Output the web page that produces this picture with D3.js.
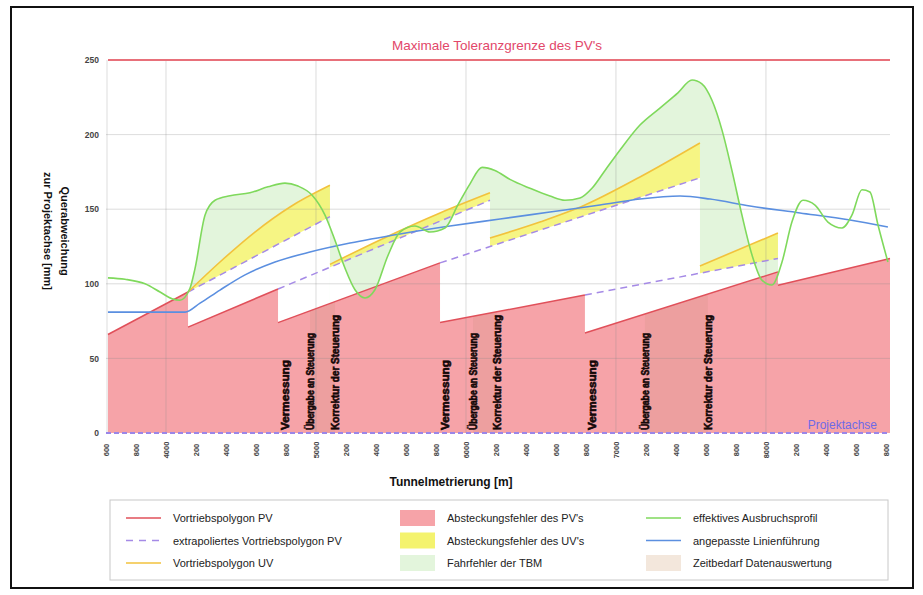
<!DOCTYPE html>
<html>
<head>
<meta charset="utf-8">
<script src="https://cdn.jsdelivr.net/npm/d3@7"></script>
<style>
  body { margin: 0; background: #fff; font-family: "Liberation Sans", Arial, sans-serif; }
</style>
</head>
<body>
<div id="chart"></div>
<script>
// ---- data (Tunnelmetrierung [m], Querabweichung [mm]) ----
var yTicks = [0, 50, 100, 150, 200, 250];
var xTicks = [3600, 3800, 4000, 4200, 4400, 4600, 4800, 5000, 5200, 5400, 5600, 5800, 6000,
  6200, 6400, 6600, 6800, 7000, 7200, 7400, 7600, 7800, 8000, 8200, 8400, 8600, 8800];
var xMajor = [4000, 5000, 6000, 7000, 8000];

// Vortriebspolygon PV (sawtooth segments)
var pvStart = [3613, 4147, 4747, 5827, 6793, 8080];
var pvEnd = [4147, 4747, 5827, 6793, 8080, 8827];
var pvStartVal = [66, 71, 74, 74, 67, 99];
var pvEndVal = [94.5, 96.5, 114, 92.5, 108, 117];

// extrapoliertes Vortriebspolygon PV
var exFrom = [4147, 4747, 5827, 6793];
var exFromVal = [94.5, 96.5, 114, 92.5];
var exTo = [5093, 6160, 7560, 8080];
var exToVal = [145, 156, 171, 117];

// Vortriebspolygon UV (one list per section)
var uv1 = [[4147, 94.5], [4360, 114.6], [4593, 134.7], [4827, 151.5], [5093, 166]];
var uv2 = [[5093, 113], [5427, 129.4], [5827, 147.5], [6160, 161]];
var uv3 = [[6160, 130.7], [6493, 141.4], [6793, 152.8], [7160, 171.6], [7560, 194.4]];
var uv4 = [[7560, 112], [8080, 134]];

// effektives Ausbruchsprofil
var green = [[3613, 104], [3727, 103], [3860, 100], [3960, 94.5], [4040, 90], [4093, 89],
  [4160, 97], [4193, 110], [4260, 146], [4327, 156], [4427, 159], [4560, 161], [4680, 165],
  [4793, 167.5], [4880, 165.5], [4973, 159.5], [5060, 146], [5127, 129], [5193, 110.6],
  [5260, 96], [5327, 90.5], [5393, 96], [5480, 119], [5560, 134.7], [5660, 138.7],
  [5760, 134.7], [5860, 137.4], [5947, 153], [6027, 167], [6107, 178], [6193, 176],
  [6293, 170], [6427, 164], [6560, 158.8], [6660, 156], [6760, 157.5], [6840, 164],
  [6927, 176], [7027, 189.7], [7160, 206.4], [7293, 217.8], [7413, 228], [7507, 236.6],
  [7573, 234], [7640, 223], [7707, 203], [7773, 176], [7840, 146], [7907, 119.3],
  [7973, 102.5], [8040, 99.2], [8107, 114.6], [8173, 141.4], [8247, 156], [8327, 152.8],
  [8413, 141.4], [8507, 137.4], [8573, 146], [8640, 163], [8693, 161.5], [8747, 139.4],
  [8813, 114.6]];

// angepasste Linienführung
var blue = [[3613, 81], [4127, 81], [4227, 87], [4360, 95.8], [4527, 106], [4727, 114.6],
  [4960, 121.3], [5227, 127.3], [5560, 133.4], [5893, 138.7], [6227, 143.4], [6560, 148.1],
  [6893, 152.8], [7160, 156.8], [7427, 158.8], [7627, 156.8], [7893, 152.1], [8227, 147.5],
  [8560, 142.8], [8813, 138.1]];

// Zeitbedarf Datenauswertung
var tanFrom = [4960, 6047, 7193];
var tanTo = [5127, 6207, 7613];

// event markers
var markPos = [4793, 4960, 5127, 5860, 6047, 6207, 6840, 7193, 7613];
var markText = ["Vermessung", "Übergabe an Steuerung", "Korrektur der Steuerung"];

var tolerance = 250;
var legendItems = [
  ["line", "#e0505a", "Vortriebspolygon PV"],
  ["dash", "#a58ae6", "extrapoliertes Vortriebspolygon PV"],
  ["line", "#f2c23c", "Vortriebspolygon UV"],
  ["rect", "#f6a3a8", "Absteckungsfehler des PV's"],
  ["rect", "#f4f36e", "Absteckungsfehler des UV's"],
  ["rect", "#e3f5dc", "Fahrfehler der TBM"],
  ["line", "#7fd95c", "effektives Ausbruchsprofil"],
  ["line", "#5b8fe0", "angepasste Linienführung"],
  ["rect", "#f3e7dc", "Zeitbedarf Datenauswertung"]
];

// ---- drawing ----
var W = 923, H = 595;
var svg = d3.select("#chart").append("svg").attr("width", W).attr("height", H);

var x = d3.scaleLinear().domain([3600, 8827]).range([106, 890]);
var y = d3.scaleLinear().domain([0, 250]).range([433, 60]);

// outer frame
svg.append("rect").attr("x", 11).attr("y", 7).attr("width", 902).attr("height", 581)
  .attr("fill", "none").attr("stroke", "#111").attr("stroke-width", 2);

var line = d3.line().x(function(d) { return x(d[0]); }).y(function(d) { return y(d[1]); });
var smooth = d3.line().curve(d3.curveMonotoneX)
  .x(function(d) { return x(d[0]); }).y(function(d) { return y(d[1]); });
var under = d3.area().curve(d3.curveMonotoneX)
  .x(function(d) { return x(d[0]); }).y0(y(0)).y1(function(d) { return y(d[1]); });

var defs = svg.append("defs");
var uvs = [uv1, uv2, uv3, uv4];

// Fahrfehler der TBM: area between green and UV line, per section
uvs.forEach(function(u, i) {
  var a = u[0][0], b = u[u.length - 1][0];
  defs.append("clipPath").attr("id", "cg" + i).append("rect")
    .attr("x", x(a)).attr("y", 0).attr("width", x(b) - x(a)).attr("height", H);
  svg.append("path")
    .attr("d", under(green) + under(u))
    .attr("fill", "#e3f5dc").attr("fill-rule", "evenodd")
    .attr("clip-path", "url(#cg" + i + ")");
});

// Absteckungsfehler des UV's: between UV line and extrapolation
uvs.forEach(function(u, i) {
  var a = u[0][0], b = u[u.length - 1][0];
  defs.append("clipPath").attr("id", "cy" + i).append("rect")
    .attr("x", x(a)).attr("y", 0).attr("width", x(b) - x(a)).attr("height", H);
  var pts = u.concat([[exTo[i], exToVal[i]], [exFrom[i], exFromVal[i]]]);
  svg.append("path").attr("d", line(pts) + "Z")
    .attr("fill", "#f4f36e").attr("fill-opacity", 0.85)
    .attr("clip-path", "url(#cy" + i + ")");
});

// Absteckungsfehler des PV's
var pvSeg = pvStart.map(function(s, i) { return [[s, pvStartVal[i]], [pvEnd[i], pvEndVal[i]]]; });
var pvArea = d3.area().x(function(d) { return x(d[0]); }).y0(y(0)).y1(function(d) { return y(d[1]); });
var pvPath = pvSeg.map(function(s) { return pvArea(s); }).join("");
svg.append("path").attr("d", pvPath).attr("fill", "#f6a3a8");

// Zeitbedarf Datenauswertung (shown over the PV area)
defs.append("clipPath").attr("id", "cpv").append("path").attr("d", pvPath);
tanFrom.forEach(function(t, i) {
  svg.append("rect").attr("x", x(t)).attr("y", y(250)).attr("width", x(tanTo[i]) - x(t))
    .attr("height", y(0) - y(250)).attr("fill", "#b88a6a").attr("fill-opacity", 0.14)
    .attr("clip-path", "url(#cpv)");
});

// grid
var grid = svg.append("g").attr("stroke", "#8a8a8a").attr("stroke-opacity", 0.3).attr("stroke-width", 1);
grid.selectAll(".h").data(yTicks.filter(function(v) { return v > 0 && v < 250; })).enter()
  .append("line").attr("x1", x.range()[0]).attr("x2", x.range()[1])
  .attr("y1", function(d) { return y(d); }).attr("y2", function(d) { return y(d); });
grid.selectAll(".v").data(xMajor).enter().append("line")
  .attr("x1", function(d) { return x(d); }).attr("x2", function(d) { return x(d); })
  .attr("y1", y(250)).attr("y2", y(0));
grid.append("line").attr("x1", 107).attr("x2", 107).attr("y1", y(250)).attr("y2", y(0));

// extrapolated PV (dashed)
exFrom.forEach(function(f, i) {
  svg.append("path").attr("d", line([[f, exFromVal[i]], [exTo[i], exToVal[i]]]))
    .attr("fill", "none").attr("stroke", "#a58ae6").attr("stroke-width", 1.5)
    .attr("stroke-dasharray", "7,5");
});

// UV lines
uvs.forEach(function(u) {
  svg.append("path").attr("d", smooth(u)).attr("fill", "none")
    .attr("stroke", "#f2c23c").attr("stroke-width", 1.6);
});

// PV lines
pvSeg.forEach(function(s) {
  svg.append("path").attr("d", line(s)).attr("fill", "none")
    .attr("stroke", "#e0505a").attr("stroke-width", 1.5);
});

// blue + green
svg.append("path").attr("d", smooth(blue)).attr("fill", "none")
  .attr("stroke", "#5b8fe0").attr("stroke-width", 1.6);
svg.append("path").attr("d", smooth(green)).attr("fill", "none")
  .attr("stroke", "#7fd95c").attr("stroke-width", 1.6);

// Projektachse (0) and tolerance (250)
svg.append("line").attr("x1", x.range()[0]).attr("x2", x.range()[1])
  .attr("y1", y(0)).attr("y2", y(0))
  .attr("stroke", "#9a86e8").attr("stroke-width", 2).attr("stroke-dasharray", "5,3");
svg.append("line").attr("x1", x.range()[0] + 2).attr("x2", x.range()[1])
  .attr("y1", y(tolerance)).attr("y2", y(tolerance))
  .attr("stroke", "#e8707a").attr("stroke-width", 2.2);
svg.append("text").attr("x", 497).attr("y", 50).attr("text-anchor", "middle")
  .attr("font-size", 13.5).attr("fill", "#e2476a").text("Maximale Toleranzgrenze des PV's");
svg.append("text").attr("x", 877).attr("y", 429).attr("text-anchor", "end")
  .attr("font-size", 12).attr("fill", "#6e6ae6").text("Projektachse");

// event markers
var markLen = [70, 97, 115];
markPos.forEach(function(m, i) {
  svg.append("text")
    .attr("transform", "translate(" + (x(m) + 4) + "," + (y(0) - 3) + ") rotate(-90)")
    .attr("font-size", 10.5).attr("font-weight", "bold").attr("fill", "#150808")
    .attr("stroke", "#150808").attr("stroke-width", 0.6)
    .attr("textLength", markLen[i % 3]).attr("lengthAdjust", "spacingAndGlyphs")
    .text(markText[i % 3]);
});

// axes
var xAxis = svg.append("g").attr("transform", "translate(0," + y(0) + ")")
  .call(d3.axisBottom(x).tickValues(xTicks).tickSize(0)
    .tickFormat(function(d) { return xMajor.indexOf(d) >= 0 ? String(d) : String(d % 1000); }));
xAxis.select(".domain").remove();
xAxis.selectAll("text")
  .attr("transform", "translate(0,17) rotate(-90)").attr("dy", "0.32em").attr("y", 0)
  .attr("text-anchor", "middle").attr("font-size", 7.5).attr("font-weight", "bold")
  .attr("fill", "#444").attr("font-family", "Liberation Sans, Arial, sans-serif");

var yAxis = svg.append("g").attr("transform", "translate(99,0)")
  .call(d3.axisLeft(y).tickValues(yTicks).tickSize(0).tickPadding(0));
yAxis.select(".domain").remove();
yAxis.selectAll("text").attr("font-size", 8.5).attr("font-weight", "bold")
  .attr("fill", "#444").attr("font-family", "Liberation Sans, Arial, sans-serif");

svg.append("text").attr("x", 451).attr("y", 486).attr("text-anchor", "middle")
  .attr("font-size", 12).attr("font-weight", "bold").attr("fill", "#111")
  .text("Tunnelmetrierung [m]");
svg.append("text").attr("transform", "translate(61,231) rotate(90)").attr("text-anchor", "middle")
  .attr("font-size", 11).attr("font-weight", "bold").attr("fill", "#111").text("Querabweichung");
svg.append("text").attr("transform", "translate(44,231) rotate(90)").attr("text-anchor", "middle")
  .attr("font-size", 11).attr("font-weight", "bold").attr("fill", "#111").text("zur Projektachse [mm]");

// legend
var lg = svg.append("g");
lg.append("rect").attr("x", 110).attr("y", 500).attr("width", 778).attr("height", 80)
  .attr("fill", "#fff").attr("stroke", "#c8c8c8");
var colX = [126, 400, 646];
legendItems.forEach(function(it, i) {
  var cx = colX[Math.floor(i / 3)], cy = 518 + (i % 3) * 22.5;
  if (it[0] === "rect") {
    lg.append("rect").attr("x", cx).attr("y", cy - 8).attr("width", 35).attr("height", 16)
      .attr("fill", it[1]);
  } else {
    lg.append("line").attr("x1", cx).attr("x2", cx + 35).attr("y1", cy).attr("y2", cy)
      .attr("stroke", it[1]).attr("stroke-width", 1.6)
      .attr("stroke-dasharray", it[0] === "dash" ? "7,6" : null);
  }
  lg.append("text").attr("x", cx + 47).attr("y", cy + 4).attr("font-size", 11)
    .attr("fill", "#222").text(it[2]);
});
</script>
</body>
</html>
